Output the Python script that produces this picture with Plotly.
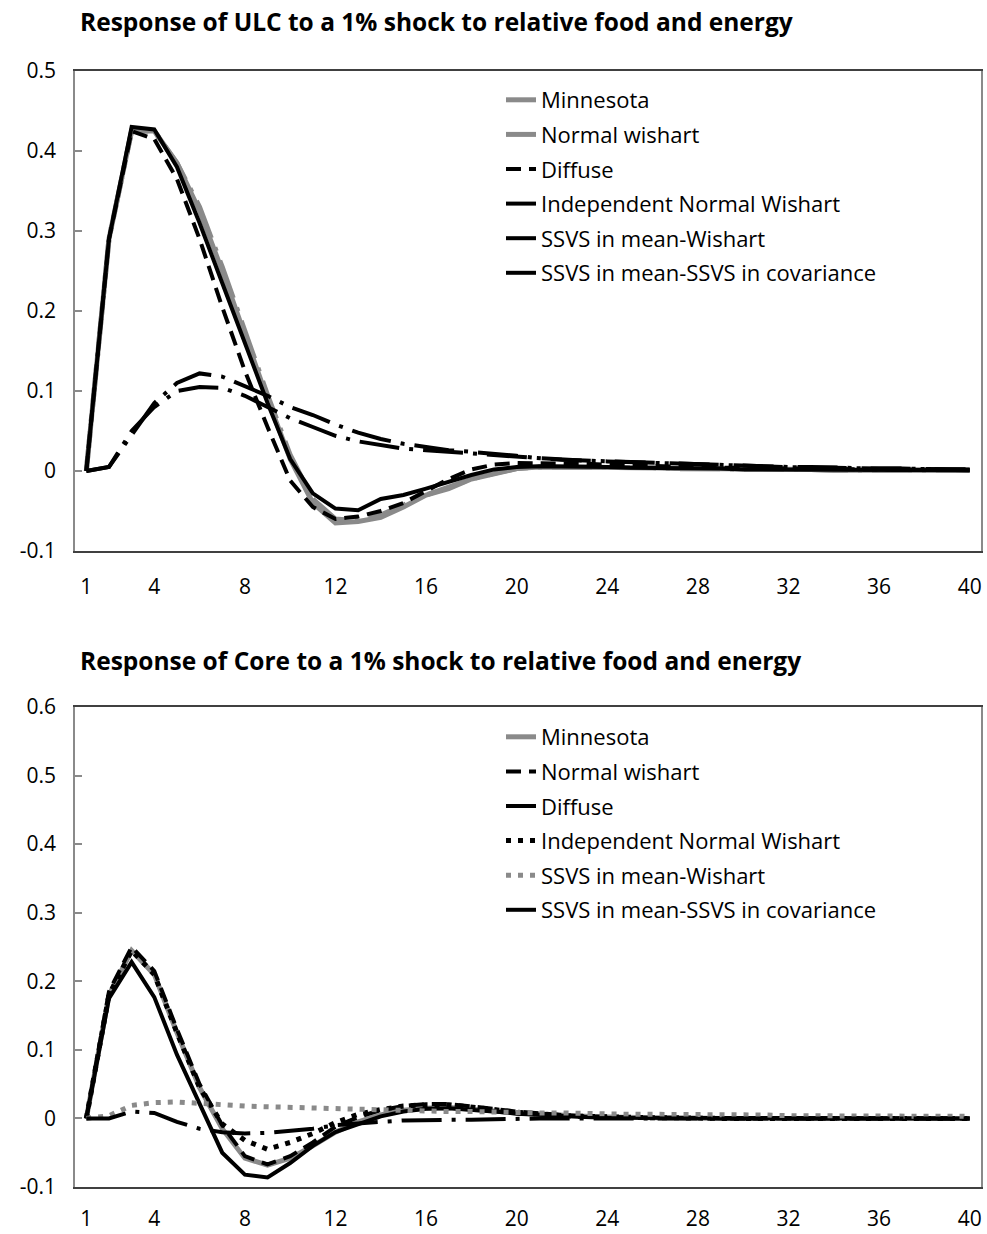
import plotly.graph_objects as go

# ---------------- data ----------------
periods = list(range(1, 41))
x_tick_vals = [1, 4, 8, 12, 16, 20, 24, 28, 32, 36, 40]
x_tick_text = [str(v) for v in x_tick_vals]
x_boundaries = [i + 0.5 for i in range(1, 40)]

ulc_y_ticks = [-0.1, 0, 0.1, 0.2, 0.3, 0.4, 0.5]
ulc_y_text = ["-0.1", "0", "0.1", "0.2", "0.3", "0.4", "0.5"]
core_y_ticks = [-0.1, 0, 0.1, 0.2, 0.3, 0.4, 0.5, 0.6]
core_y_text = ["-0.1", "0", "0.1", "0.2", "0.3", "0.4", "0.5", "0.6"]

series_names = ["Minnesota", "Normal wishart", "Diffuse", "Independent Normal Wishart",
                "SSVS in mean-Wishart", "SSVS in mean-SSVS in covariance"]

title_ulc = "Response of ULC to a 1% shock to relative food and energy"
title_core = "Response of Core to a 1% shock to relative food and energy"

ulc_minnesota = [0, 0.29, 0.425, 0.425, 0.385, 0.325, 0.25, 0.17, 0.09, 0.015, -0.04, -0.065,
                 -0.063, -0.058, -0.045, -0.03, -0.022, -0.01, -0.003, 0.003, 0.005, 0.005, 0.005,
                 0.004, 0.004, 0.004, 0.003, 0.003, 0.003, 0.002, 0.002, 0.002, 0.002, 0.001,
                 0.001, 0.001, 0.001, 0.001, 0.001, 0.001]
ulc_normal_wishart = [0, 0.29, 0.425, 0.425, 0.385, 0.33, 0.255, 0.175, 0.095, 0.02, -0.035, -0.06,
                      -0.062, -0.055, -0.042, -0.03, -0.02, -0.01, -0.003, 0.003, 0.005, 0.005,
                      0.005, 0.004, 0.004, 0.004, 0.003, 0.003, 0.003, 0.002, 0.002, 0.002, 0.002,
                      0.001, 0.001, 0.001, 0.001, 0.001, 0.001, 0.001]
ulc_diffuse = [0, 0.29, 0.425, 0.415, 0.365, 0.29, 0.205, 0.125, 0.055, -0.012, -0.045, -0.06,
               -0.057, -0.05, -0.04, -0.025, -0.01, 0.002, 0.008, 0.01, 0.01, 0.01, 0.009, 0.008,
               0.007, 0.006, 0.005, 0.005, 0.004, 0.004, 0.003, 0.003, 0.003, 0.002, 0.002, 0.002,
               0.002, 0.001, 0.001, 0.001]
ulc_indep_nw = [0, 0.29, 0.43, 0.427, 0.38, 0.31, 0.235, 0.16, 0.085, 0.015, -0.028, -0.047,
                -0.049, -0.035, -0.03, -0.022, -0.013, -0.005, 0.002, 0.005, 0.006, 0.006, 0.005,
                0.005, 0.004, 0.004, 0.003, 0.003, 0.003, 0.002, 0.002, 0.002, 0.002, 0.001,
                0.001, 0.001, 0.001, 0.001, 0.001, 0.001]
ulc_ssvs_wishart = [0, 0.005, 0.045, 0.085, 0.11, 0.122, 0.118, 0.106, 0.094, 0.08, 0.07, 0.058,
                    0.048, 0.04, 0.034, 0.03, 0.026, 0.024, 0.022, 0.019, 0.016, 0.014, 0.013,
                    0.012, 0.011, 0.01, 0.009, 0.008, 0.007, 0.006, 0.006, 0.005, 0.005, 0.004,
                    0.004, 0.003, 0.003, 0.003, 0.002, 0.002]
ulc_ssvs_ssvs = [0, 0.005, 0.05, 0.08, 0.1, 0.105, 0.104, 0.094, 0.08, 0.066, 0.055, 0.044,
                 0.037, 0.032, 0.028, 0.026, 0.024, 0.022, 0.02, 0.017, 0.015, 0.014, 0.013,
                 0.012, 0.011, 0.01, 0.009, 0.008, 0.007, 0.006, 0.005, 0.005, 0.004, 0.004,
                 0.003, 0.003, 0.003, 0.002, 0.002, 0.002]

core_minnesota = [0, 0.18, 0.245, 0.21, 0.125, 0.045, -0.015, -0.058, -0.068, -0.058, -0.04,
                  -0.02, -0.005, 0.005, 0.012, 0.015, 0.016, 0.014, 0.011, 0.008, 0.006, 0.004,
                  0.003, 0.002, 0.001, 0.001, 0.001, 0, 0, 0, 0, 0, 0, 0, 0, 0, 0, 0, 0, 0]
core_normal_wishart = [0, 0.185, 0.25, 0.215, 0.13, 0.05, -0.01, -0.055, -0.067, -0.055, -0.035,
                       -0.012, 0.002, 0.012, 0.018, 0.021, 0.021, 0.018, 0.014, 0.01, 0.007,
                       0.005, 0.003, 0.002, 0.001, 0.001, 0.001, 0, 0, 0, 0, 0, 0, 0, 0, 0, 0,
                       0, 0, 0]
core_diffuse = [0, 0.175, 0.228, 0.177, 0.093, 0.02, -0.05, -0.082, -0.086, -0.065, -0.04,
                -0.02, -0.008, 0.003, 0.01, 0.014, 0.015, 0.013, 0.01, 0.007, 0.005, 0.003,
                0.002, 0.001, 0.001, 0.001, 0, 0, 0, 0, 0, 0, 0, 0, 0, 0, 0, 0, 0, 0]
core_indep_nw = [0, 0.18, 0.245, 0.21, 0.125, 0.045, -0.008, -0.032, -0.045, -0.035, -0.022,
                 -0.006, 0.006, 0.013, 0.018, 0.02, 0.02, 0.017, 0.013, 0.009, 0.006, 0.004,
                 0.003, 0.002, 0.001, 0.001, 0.001, 0, 0, 0, 0, 0, 0, 0, 0, 0, 0, 0, 0, 0]
core_ssvs_wishart = [0, 0.004, 0.019, 0.023, 0.024, 0.022, 0.019, 0.018, 0.017, 0.016, 0.015,
                     0.014, 0.013, 0.012, 0.012, 0.011, 0.01, 0.01, 0.009, 0.009, 0.008, 0.008,
                     0.007, 0.007, 0.006, 0.006, 0.006, 0.005, 0.005, 0.005, 0.005, 0.004,
                     0.004, 0.004, 0.004, 0.004, 0.003, 0.003, 0.003, 0.003]
core_ssvs_ssvs = [0, 0, 0.01, 0.008, -0.005, -0.015, -0.02, -0.022, -0.021, -0.018, -0.015,
                  -0.01, -0.007, -0.005, -0.003, -0.002, -0.002, -0.002, -0.001, -0.001, 0, 0,
                  0, 0, 0, 0, 0, 0, 0, 0, 0, 0, 0, 0, 0, 0, 0, 0, 0, 0]

# ---------------- styles ----------------
GRAY = "#8a8a8a"
BLACK = "#000000"
LDD = "40px,10px,4px,10px"

ulc_styles = [
    dict(color=GRAY, width=5, dash="solid"),
    dict(color=GRAY, width=5, dash=LDD),
    dict(color=BLACK, width=4, dash="15px,8px"),
    dict(color=BLACK, width=4, dash="solid"),
    dict(color=BLACK, width=4, dash=LDD),
    dict(color=BLACK, width=4, dash=LDD),
]
core_styles = [
    dict(color=GRAY, width=5, dash="solid"),
    dict(color=BLACK, width=4, dash="15px,8px"),
    dict(color=BLACK, width=4, dash="solid"),
    dict(color=BLACK, width=5, dash="5px,7px"),
    dict(color=GRAY, width=5, dash="5px,7px"),
    dict(color=BLACK, width=4, dash=LDD),
]

ulc_series = [ulc_minnesota, ulc_normal_wishart, ulc_diffuse, ulc_indep_nw,
              ulc_ssvs_wishart, ulc_ssvs_ssvs]
core_series = [core_minnesota, core_normal_wishart, core_diffuse, core_indep_nw,
               core_ssvs_wishart, core_ssvs_ssvs]

fig = go.Figure()
for i, (name, vals, st) in enumerate(zip(series_names, ulc_series, ulc_styles)):
    fig.add_trace(go.Scatter(x=periods, y=vals, name=name, mode="lines", line=st,
                             xaxis="x", yaxis="y", legend="legend",
                             legendgroup="u%d" % i))
for i, (name, vals, st) in enumerate(zip(series_names, core_series, core_styles)):
    fig.add_trace(go.Scatter(x=periods, y=vals, name=name, mode="lines", line=st,
                             xaxis="x2", yaxis="y2", legend="legend2",
                             legendgroup="c%d" % i))

FONT = "Open Sans"
TICKFONT = dict(family=FONT, size=21, color="#000000")

ML, MR, MT, MB = 75, 6, 71, 47
W, H = 987, 1234
PW = W - ML - MR
PH = H - MT - MB


def px_x(px):
    return (px - ML) / PW


def px_y(py):
    return (H - MB - py) / PH


top_dom = [px_y(551), 1.0]
bot_dom = [0.0, px_y(707)]
ulc_range = [-0.1, 0.5]
core_range = [-0.1, 0.6]
xr = [0.5, 40.5]


def zero_pos(dom, rng):
    return dom[0] + (0 - rng[0]) / (rng[1] - rng[0]) * (dom[1] - dom[0])


xbase = dict(range=xr, showgrid=False, zeroline=False, showline=True, linecolor="#404040",
             linewidth=2, mirror=True, ticks="", tickmode="array", tickvals=x_tick_vals,
             ticktext=x_tick_text, tickfont=TICKFONT, ticklabelstandoff=16,
             ticklabeloverflow="allow", automargin=False)
ybase = dict(showgrid=False, zeroline=False, showline=True, linecolor="#8a8a8a", linewidth=1.5,
             mirror=True, ticks="inside", ticklen=7, tickcolor="#8a8a8a", tickwidth=1.5,
             tickmode="array", tickfont=TICKFONT, ticklabelstandoff=13,
             ticklabeloverflow="allow", automargin=False)
zbase = dict(range=xr, showgrid=False, zeroline=False, showline=True, linecolor="#8a8a8a",
             linewidth=1.5, ticks="inside", ticklen=7, tickcolor="#8a8a8a", tickwidth=1.5,
             tickmode="array", tickvals=x_boundaries, showticklabels=False,
             anchor="free", layer="below traces", automargin=False)

legbase = dict(font=dict(family=FONT, size=22, color="#000000"), bgcolor="rgba(0,0,0,0)",
               xanchor="left", yanchor="top", traceorder="grouped", tracegroupgap=3,
               x=px_x(501))

TITLEFONT = dict(family=FONT, size=24.5, color="#000000")

fig.update_layout(
    width=W, height=H,
    autosize=False,
    margin=dict(l=ML, r=MR, t=MT, b=MB, autoexpand=False),
    paper_bgcolor="white", plot_bgcolor="white",
    showlegend=True,
    xaxis=dict(xbase, domain=[0, 1], anchor="y"),
    yaxis=dict(ybase, domain=top_dom, range=ulc_range, tickvals=ulc_y_ticks,
               ticktext=ulc_y_text, anchor="x"),
    xaxis2=dict(xbase, domain=[0, 1], anchor="y2", ticklabelstandoff=12),
    yaxis2=dict(ybase, domain=bot_dom, range=core_range, tickvals=core_y_ticks,
                ticktext=core_y_text, anchor="x2"),
    xaxis3=dict(zbase, overlaying="x", position=zero_pos(top_dom, ulc_range)),
    xaxis4=dict(zbase, overlaying="x2", position=zero_pos(bot_dom, core_range)),
    legend=dict(legbase, y=px_y(79)),
    legend2=dict(legbase, y=px_y(716)),
    annotations=[
        dict(text="<b>%s</b>" % title_ulc, xref="paper", yref="paper", x=px_x(78),
             y=px_y(22), xanchor="left", yanchor="middle", showarrow=False,
             font=TITLEFONT),
        dict(text="<b>%s</b>" % title_core, xref="paper", yref="paper", x=px_x(78),
             y=px_y(660), xanchor="left", yanchor="middle", showarrow=False,
             font=TITLEFONT),
    ],
)

fig.write_html(
    "out.html",
    config={"displayModeBar": False},
    post_script="document.body.style.margin='0';document.body.style.overflow='hidden';",
)
